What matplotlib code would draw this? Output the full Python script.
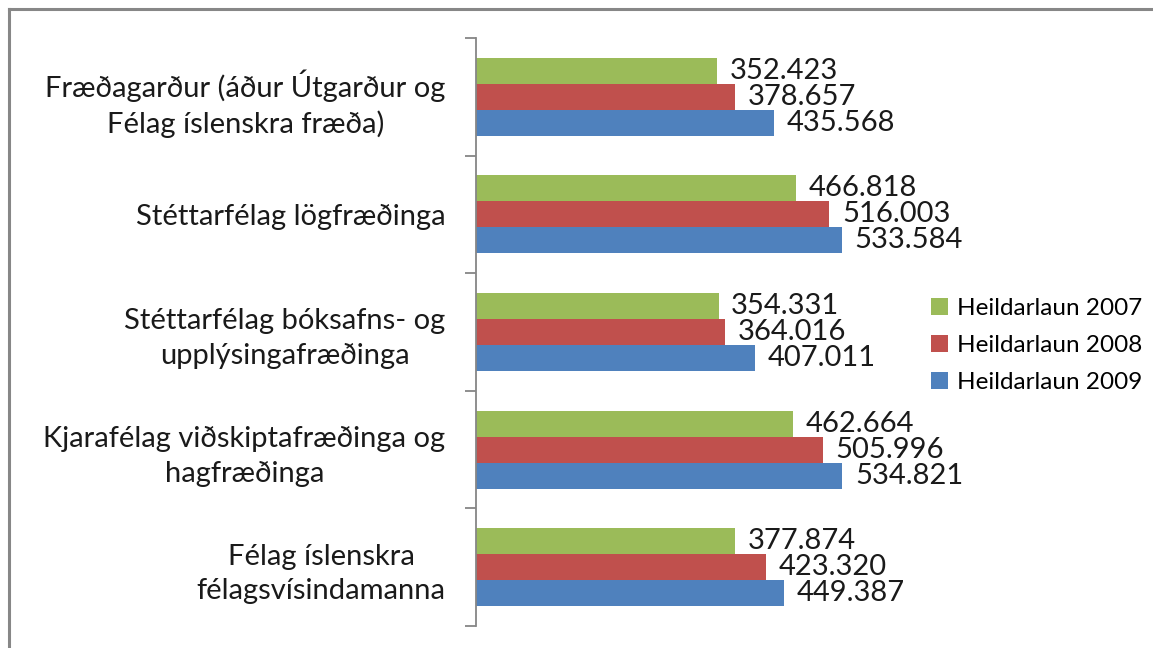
import matplotlib.pyplot as plt
from matplotlib.lines import Line2D
from matplotlib.ticker import FixedLocator

plt.rcParams['font.family'] = ['Lato', 'DejaVu Sans']

flokkar = [
    "Fræðagarður (áður Útgarður og\nFélag íslenskra fræða)",
    "Stéttarfélag lögfræðinga",
    "Stéttarfélag bóksafns- og\nupplýsingafræðinga",
    "Kjarafélag viðskiptafræðinga og\nhagfræðinga",
    "Félag íslenskra\nfélagsvísindamanna",
]
laun_2007 = [352423, 466818, 354331, 462664, 377874]
laun_2008 = [378657, 516003, 364016, 505996, 423320]
laun_2009 = [435568, 533584, 407011, 534821, 449387]
radir = ["Heildarlaun 2007", "Heildarlaun 2008", "Heildarlaun 2009"]
litir = ["#9BBB59", "#C0504D", "#4F81BD"]

fig = plt.figure(figsize=(11.53, 6.48), dpi=100)
ax = fig.add_axes([476 / 1153, 1 - 626 / 648, 0.42, 588 / 648])

h = 0.221
y = list(range(len(flokkar)))
for i, (gildi, nafn, lit) in enumerate(zip([laun_2007, laun_2008, laun_2009], radir, litir)):
    pos = [k + (i - 1) * h for k in y]
    bars = ax.barh(pos, gildi, height=h, color=lit, label=nafn)
    ax.bar_label(bars, labels=[f"{v:,}".replace(",", ".") for v in gildi],
                 padding=9, fontsize=21, color="#1a1a1a")

ax.set_ylim(len(flokkar) - 0.5, -0.5)
ax.set_xlim(0, 0.42 * 1153 / 0.685 * 1000)

ax.yaxis.set_major_locator(FixedLocator([k - 0.5 for k in range(len(flokkar) + 1)]))
ax.yaxis.set_major_formatter(plt.NullFormatter())
ax.yaxis.set_minor_locator(FixedLocator(y))
ax.set_yticklabels(flokkar, minor=True, fontsize=21, color="#1a1a1a",
                   multialignment="center", linespacing=1.4)
ax.tick_params(axis="y", which="major", length=8, width=1.3, color="#868686")
ax.tick_params(axis="y", which="minor", length=0, pad=22)
ax.set_xticks([])
for s in ["top", "right", "bottom"]:
    ax.spines[s].set_visible(False)
ax.spines["left"].set_color("#868686")
ax.spines["left"].set_linewidth(1.3)

fig.legend(loc="upper left", bbox_to_anchor=(931 / 1153, 1 - 298 / 648),
           frameon=False, fontsize=17.5, handlelength=0.7, handleheight=0.7,
           handletextpad=0.35, labelspacing=0.65, borderaxespad=0,
           borderpad=0)

# ramminn utan um myndina
fig.add_artist(Line2D([8.5 / 1153, 8.5 / 1153], [0, 1 - 8.5 / 648],
                      transform=fig.transFigure, color="#878787", lw=2.2))
fig.add_artist(Line2D([8.5 / 1153, 1], [1 - 8.5 / 648, 1 - 8.5 / 648],
                      transform=fig.transFigure, color="#878787", lw=2.2))

fig.savefig("out.png", dpi=100)
